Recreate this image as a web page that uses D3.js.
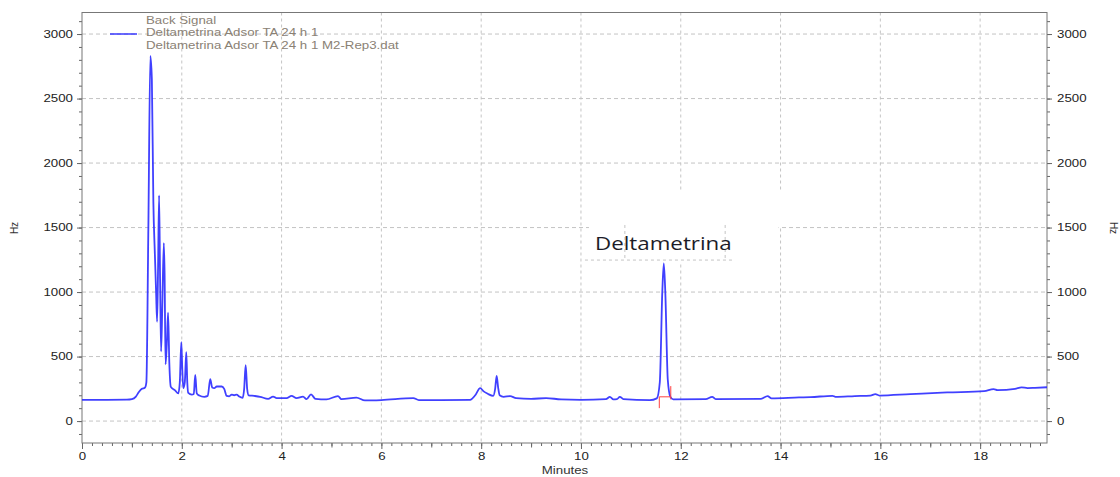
<!DOCTYPE html>
<html>
<head>
<meta charset="utf-8">
<script src="https://cdn.jsdelivr.net/npm/d3@7"></script>
<style>
  body { margin: 0; background: #fff; }
  svg { display: block; }
  text { font-family: "Liberation Sans", Arial, sans-serif; }
</style>
</head>
<body>
<div id="VisContainer"></div>
<script>
// chromatogram trace (minutes, Hz)
times = [0, 0.5, 0.9, 1.0, 1.08, 1.14, 1.2, 1.26, 1.29, 1.33, 1.37, 1.40, 1.43, 1.46, 1.485, 1.505,
  1.525, 1.545, 1.565, 1.585, 1.61, 1.64, 1.655, 1.675, 1.70, 1.725, 1.75, 1.78, 1.86, 1.93,
  1.96, 1.99, 2.01, 2.03, 2.06, 2.09, 2.11, 2.13, 2.2, 2.24, 2.27, 2.3, 2.35, 2.45, 2.52, 2.57,
  2.61, 2.65, 2.7, 2.8, 2.85, 2.9, 2.95, 3.0, 3.05, 3.1, 3.15, 3.22, 3.25, 3.28, 3.31, 3.34,
  3.45, 3.57, 3.73, 3.83, 3.9, 4.1, 4.2, 4.3, 4.43, 4.5, 4.59, 4.68, 4.9, 5.13, 5.2, 5.5, 5.67,
  6.0, 6.64, 6.75, 7.2, 7.78, 7.88, 7.98, 8.05, 8.13, 8.24, 8.28, 8.31, 8.34, 8.37, 8.45, 8.58,
  8.7, 9.0, 9.3, 9.6, 10.0, 10.5, 10.58, 10.65, 10.72, 10.78, 10.85, 11.38, 11.52, 11.58, 11.63,
  11.66, 11.69, 11.74, 11.79, 11.85, 12.5, 12.63, 12.7, 13.6, 13.74, 13.82, 14.37, 14.6, 15.04,
  15.1, 15.49, 15.8, 15.9, 15.98, 16.6, 17.34, 18.08, 18.27, 18.35, 18.7, 18.83, 18.95, 19.1, 19.34];
hz = [165, 165, 166, 170, 190, 225, 250, 258, 300, 1500, 2830, 2650, 1700, 1300, 1000, 770,
  1200, 1750, 1100, 540, 900, 1380, 1150, 440, 600, 840, 450, 265, 240, 215,
  300, 612, 400, 255, 300, 535, 300, 218, 205, 210, 357, 215, 198, 188, 195, 325,
  260, 255, 268, 268, 250, 195, 192, 205, 200, 205, 190, 180, 250, 434, 250, 200,
  195, 188, 172, 190, 178, 178, 196, 178, 190, 170, 207, 172, 168, 194, 170, 182, 160,
  163, 178, 163, 163, 165, 200, 255, 230, 212, 195, 250, 350, 260, 200, 188, 194,
  178, 172, 178, 168, 165, 170, 188, 168, 170, 188, 170, 162, 176, 300, 1000,
  1222, 1000, 320, 190, 168, 170, 188, 170, 172, 194, 176, 183, 185, 196,
  188, 194, 198, 209, 198, 209, 222, 232, 248, 240, 250, 261, 256, 258, 262];

xTicks = [0, 2, 4, 6, 8, 10, 12, 14, 16, 18];
yTicks = [0, 500, 1000, 1500, 2000, 2500, 3000];
legendText = ["Back Signal", "Deltametrina Adsor TA 24 h 1", "Deltametrina Adsor TA 24 h 1 M2-Rep3.dat"];
peakName = "Deltametrina";
// integration marks of the peak: [minutes, low Hz, high Hz]
intMarks = [[11.57, 100, 188], [11.80, 168, 271]];
intBase = 188;

SX = 1.33;   // the picture is stretched sideways
W = 1120; H = 477;
margin = {top: 12.5, right: 73, bottom: 34, left: 82};
width = W - margin.left - margin.right;
height = H - margin.top - margin.bottom;

x = d3.scaleLinear().domain([0, 19.34]).range([0, width]);
y = d3.scaleLinear().domain([-170, 3167]).range([height, 0]);

svg = d3.select("#VisContainer").append("svg")
  .attr("width", W).attr("height", H);
svg.append("rect").attr("width", W).attr("height", H).attr("fill", "#fff");

g = svg.append("g").attr("transform", "translate(" + margin.left + "," + margin.top + ")");

gridColor = "#c4c4c4";
// grid
g.append("g").selectAll("line.h").data(yTicks).enter().append("line")
  .attr("x1", 0).attr("x2", width)
  .attr("y1", d => y(d)).attr("y2", d => y(d))
  .attr("stroke", gridColor).attr("stroke-dasharray", "4,3");
g.append("g").selectAll("line.v").data(xTicks.slice(1)).enter().append("line")
  .attr("x1", d => x(d)).attr("x2", d => x(d))
  .attr("y1", 0).attr("y2", height)
  .attr("stroke", gridColor).attr("stroke-dasharray", "3,3");

// pasted label patch that hides part of the grid
g.append("rect").attr("x", x(10.16)).attr("y", y(1790))
  .attr("width", x(14.1) - x(10.16)).attr("height", y(1505) - y(1790)).attr("fill", "#fff");
g.append("rect").attr("x", x(10.16)).attr("y", y(1505))
  .attr("width", x(13.96) - x(10.16)).attr("height", y(1225) - y(1505)).attr("fill", "#fff");
g.append("line").attr("x1", x(10.08)).attr("x2", x(13.04)).attr("y1", y(1248)).attr("y2", y(1248))
  .attr("stroke", gridColor).attr("stroke-dasharray", "3,3");
[10.88, 12.89].forEach(function(t) {
  g.append("line").attr("x1", x(t)).attr("x2", x(t)).attr("y1", y(1520)).attr("y2", y(1248))
    .attr("stroke", gridColor).attr("stroke-dasharray", "3,3");
});

// axes
function fixText(sel, dx, anchor) {
  sel.selectAll("text").attr("transform", "scale(" + SX + ",1)")
    .attr("x", dx / SX).attr("fill", "#222").style("font-size", "10px")
    .attr("text-anchor", anchor);
}
function stripDomain(sel) {
  sel.select(".domain").remove();
  sel.selectAll("line").attr("stroke", "#666");
}
yMinor = d3.range(-100, 3101, 100);
xMinor = d3.range(0, 19.35, 0.2);
xOdd = d3.range(1, 20, 2);
fmt = d3.format("d");

yl = g.append("g").call(d3.axisLeft(y).tickValues(yMinor).tickSize(3).tickFormat(""));
stripDomain(yl);
yl2 = g.append("g").call(d3.axisLeft(y).tickValues(yTicks).tickSize(5).tickFormat(fmt));
stripDomain(yl2); fixText(yl2, -9, "end");

yr = g.append("g").attr("transform", "translate(" + width + ",0)")
  .call(d3.axisRight(y).tickValues(yMinor).tickSize(3).tickFormat(""));
stripDomain(yr);
yr2 = g.append("g").attr("transform", "translate(" + width + ",0)")
  .call(d3.axisRight(y).tickValues(yTicks).tickSize(5).tickFormat(fmt));
stripDomain(yr2); fixText(yr2, 10, "start");

xb = g.append("g").attr("transform", "translate(0," + height + ")")
  .call(d3.axisBottom(x).tickValues(xMinor).tickSize(3).tickFormat(""));
stripDomain(xb);
xb1 = g.append("g").attr("transform", "translate(0," + height + ")")
  .call(d3.axisBottom(x).tickValues(xOdd.filter(d => d < 19.34)).tickSize(4.5).tickFormat(""));
stripDomain(xb1);
xb2 = g.append("g").attr("transform", "translate(0," + height + ")")
  .call(d3.axisBottom(x).tickValues(xTicks).tickSize(6).tickFormat(fmt));
stripDomain(xb2); fixText(xb2, 0, "middle");
xb2.selectAll("text").attr("y", 14).attr("dy", "0.35em");

// frame
g.append("rect").attr("width", width).attr("height", height)
  .attr("fill", "none").attr("stroke", "#777").attr("stroke-width", 1);

// axis titles
svg.append("text").attr("transform", "translate(18,228) rotate(-90)")
  .attr("text-anchor", "middle").style("font-size", "10px").attr("fill", "#333").text("Hz");
svg.append("text").attr("transform", "translate(1110,228) rotate(90)")
  .attr("text-anchor", "middle").style("font-size", "10px").attr("fill", "#333").text("Hz");
svg.append("text").attr("transform", "translate(565,474) scale(" + SX + ",1)")
  .attr("text-anchor", "middle").style("font-size", "10px").attr("fill", "#333").text("Minutes");

// trace
trace = times.map(function(t, i) { return {t: t, v: hz[i]}; });
line = d3.line().x(d => x(d.t)).y(d => y(d.v)).curve(d3.curveMonotoneX);
g.append("path").datum(trace).attr("d", line)
  .attr("fill", "none").attr("stroke", "#2b2bff").attr("stroke-width", 1.8)
  .attr("stroke-linejoin", "round").attr("opacity", 0.9);

// integration marks
red = "#ff4040";
g.append("line").attr("x1", x(intMarks[0][0])).attr("x2", x(intMarks[1][0]))
  .attr("y1", y(intBase)).attr("y2", y(intBase)).attr("stroke", red).attr("stroke-width", 1);
g.selectAll("line.mark").data(intMarks).enter().append("line")
  .attr("x1", d => x(d[0])).attr("x2", d => x(d[0]))
  .attr("y1", d => y(d[1])).attr("y2", d => y(d[2]))
  .attr("stroke", red).attr("stroke-width", 1);

// peak label
svg.append("text").attr("transform", "translate(595,250) scale(1.24,1)")
  .style("font-family", "'Open Sans', 'Noto Sans', sans-serif").style("font-size", "18px")
  .attr("fill", "#1c1c28").text(peakName);

// legend
svg.append("line").attr("x1", 110).attr("x2", 137).attr("y1", 34).attr("y2", 34)
  .attr("stroke", "#2b2bff").attr("stroke-width", 1.4);
svg.selectAll("text.leg").data(legendText).enter().append("text")
  .attr("transform", (d, i) => "translate(146," + (20 + i * 12.8) + ") scale(" + SX + ",1)")
  .attr("dy", "0.35em").style("font-size", "10px").attr("fill", "#8a8174")
  .text(d => d);
</script>
</body>
</html>
